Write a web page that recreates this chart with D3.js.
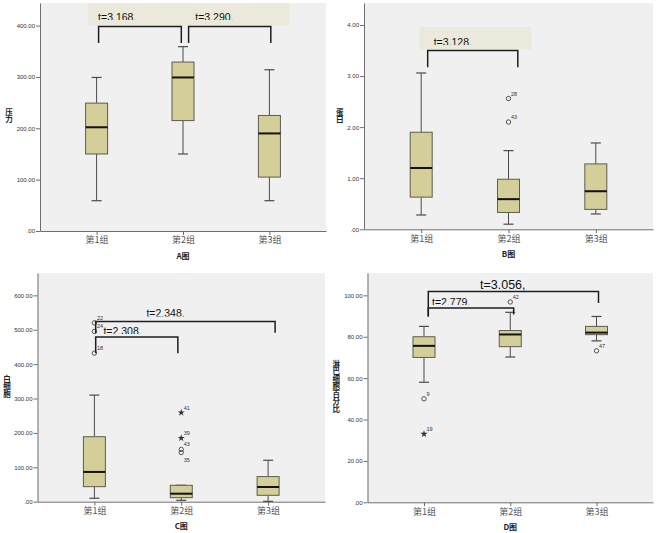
<!DOCTYPE html>
<html><head><meta charset="utf-8">
<script src="https://cdn.jsdelivr.net/npm/d3@7"></script>
<style>body{margin:0;background:#fff}svg{display:block}</style>
</head><body>
<svg id="chart" width="658" height="533"></svg>
<script>
// ---------- data ----------
const groups = ["第1组", "第2组", "第3组"];

// box stats per group: [lower whisker, Q1, median, Q3, upper whisker]
const boxesA = [[59, 150, 202, 249, 299], [150, 215, 299, 329, 359], [59, 105, 190, 225, 314]];
const boxesB = [[0.28, 0.63, 1.20, 1.90, 3.06], [0.10, 0.33, 0.59, 0.98, 1.54], [0.30, 0.39, 0.745, 1.28, 1.69]];
const boxesC = [[10, 43.7, 86.5, 189, 310], [4, 11.7, 23.3, 47.7, 47.7], [1, 18.6, 42.8, 73, 120.5]];
const boxesD = [[58, 70, 75.6, 80, 85], [70.2, 75.2, 81.1, 83, 91.8], [78, 81, 82, 85, 89.8]];

// outliers: group index, value, case label, marker, label side
const outliersA = [];
const outliersB = [
  {g: 1, v: 2.56, label: "28", shape: "circle", side: "above"},
  {g: 1, v: 2.10, label: "43", shape: "circle", side: "above"}
];
const outliersC = [
  {g: 0, v: 520, label: "22", shape: "circle", side: "above"},
  {g: 0, v: 495, label: "24", shape: "circle", side: "above"},
  {g: 0, v: 432, label: "18", shape: "circle", side: "above"},
  {g: 1, v: 259, label: "41", shape: "star", side: "above"},
  {g: 1, v: 185, label: "39", shape: "star", side: "above"},
  {g: 1, v: 152, label: "43", shape: "circle", side: "above"},
  {g: 1, v: 143, label: "35", shape: "circle", side: "below"}
];
const outliersD = [
  {g: 0, v: 50, label: "9", shape: "circle", side: "above"},
  {g: 0, v: 33, label: "19", shape: "star", side: "above"},
  {g: 1, v: 96.8, label: "42", shape: "circle", side: "above"},
  {g: 2, v: 73.2, label: "47", shape: "circle", side: "above"}
];

// y tick values
const ticksA = [0, 100, 200, 300, 400];
const ticksB = [0, 1, 2, 3, 4];
const ticksC = [0, 100, 200, 300, 400, 500, 600];
const ticksD = [0, 20, 40, 60, 80, 100];

// significance brackets: from group, to group, bar level, leg ends (left, right), text
const bracketsA = [
  {from: 0, to: 1, level: 398, legL: 366, legR: 366, text: "t=3.168,"},
  {from: 1, to: 2, level: 398, legL: 366, legR: 366, text: "t=3.290,"}
];
const bracketsB = [
  {from: 0, to: 1, level: 3.5, legL: 3.17, legR: 3.17, text: "t=3.128,"}
];
const bracketsC = [
  {from: 0, to: 2, level: 524, legL: 490, legR: 491, text: "t=2.348,"},
  {from: 0, to: 1, level: 479, legL: 432, legR: 432, text: "t=2.308,"}
];
const bracketsD = [
  {from: 0, to: 2, level: 101.9, legL: 89.8, legR: 96.3, text: "t=3.056,"},
  {from: 0, to: 1, level: 93.9, legL: 89.8, legR: 90.7, text: "t=2.779,"}
];

const yTitles = ["压力", "蛋白", "白细胞", "淋巴细胞百分比"];
const xTitles = ["A图", "B图", "C图", "D图"];

// ---------- layout ----------
const panels = [
  {boxes: boxesA, outliers: outliersA, ticks: ticksA, brackets: bracketsA, ymax: 444,
   left: 40, right: 326, top: 3, bottom: 231, ytx: 9, yty: 108,
   band: {x0: 88.3, x1: 289.3, v0: 400},
   bx: [[2, -1.7], [5.6, 1.4]], tx: [1.5, 12.3], ty: [20.5, 20.5], tsize: [10.5, 10.5], clip: [true, true]},
  {boxes: boxesB, outliers: outliersB, ticks: ticksB, brackets: bracketsB, ymax: 4.43,
   left: 364, right: 653, top: 3, bottom: 229.3, ytx: 339.7, yty: 108,
   band: {x0: 419.5, x1: 531.5, v0: 3.53, v1: 3.96},
   bx: [[6.5, 9.3]], tx: [12.5], ty: [45.5], tsize: [10.5], clip: [true]},
  {boxes: boxesC, outliers: outliersC, ticks: ticksC, brackets: bracketsC, ymax: 665,
   left: 37.5, right: 325, top: 273, bottom: 501.7, ytx: 7, yty: 375,
   band: null,
   bx: [[1.3, 7], [1.3, -3.4]], tx: [52, 9], ty: [317, 334.5], tsize: [10.5, 10.5], clip: [true, true]},
  {boxes: boxesD, outliers: outliersD, ticks: ticksD, brackets: bracketsD, ymax: 110.8,
   left: 367.5, right: 653, top: 273, bottom: 502.3, ytx: 336.3, yty: 360,
   band: null,
   bx: [[4.3, 2], [4.3, 3.4]], tx: [56, 8], ty: [289, 305.5], tsize: [12.5, 10.5], clip: [false, true]}
];

const svg = d3.select("#chart");
const latin = "'Liberation Sans', Arial, sans-serif";
const cjk = "'Noto Sans CJK SC', 'Noto Sans CJK JP', sans-serif";
const fmt = v => d3.format(".2f")(v).replace(/^0\./, ".");
const boxFill = "#d4cf98";

panels.forEach((p, pi) => {
  const g = svg.append("g");
  const x = d3.scalePoint().domain(groups).range([p.left, p.right]).padding(0.655);
  const y = d3.scaleLinear().domain([0, p.ymax]).range([p.bottom, p.top]);

  // plot background
  g.append("rect").attr("x", p.left).attr("y", p.top)
    .attr("width", p.right - p.left).attr("height", p.bottom - p.top).attr("fill", "#f0f0f0");

  // annotation band
  if (p.band) {
    const v1 = p.band.v1 !== undefined ? p.band.v1 : p.ymax;
    g.append("rect").attr("x", p.band.x0).attr("y", y(v1))
      .attr("width", p.band.x1 - p.band.x0).attr("height", y(p.band.v0) - y(v1))
      .attr("fill", "#ebe9dc");
  }

  // axes
  const ya = g.append("g").attr("transform", `translate(${p.left},0)`)
    .call(d3.axisLeft(y).tickValues(p.ticks).tickFormat(fmt).tickSize(4).tickSizeOuter(0).tickPadding(1));
  ya.selectAll("text").attr("font-family", latin).attr("font-size", 6).attr("fill", "#333");
  ya.selectAll("line,path").attr("stroke", "#6e6e6e");

  const xa = g.append("g").attr("transform", `translate(0,${p.bottom})`)
    .call(d3.axisBottom(x).tickSize(4).tickSizeOuter(0).tickPadding(2));
  xa.selectAll("text").attr("font-family", cjk).attr("font-size", 9).attr("fill", "#555");
  xa.selectAll("line,path").attr("stroke", "#6e6e6e");

  // axis titles
  g.append("text").attr("x", (x(groups[1]))).attr("y", p.bottom + 27.5)
    .attr("text-anchor", "middle").attr("font-family", cjk).attr("font-weight", "bold")
    .attr("font-size", 8).attr("fill", "#222").text(xTitles[pi]);
  g.append("text").attr("x", p.ytx).attr("y", p.yty)
    .attr("text-anchor", "start")
    .style("writing-mode", "vertical-rl").style("text-orientation", "upright")
    .attr("font-family", cjk).attr("font-weight", "bold")
    .attr("font-size", 7.5).attr("fill", "#222").text(yTitles[pi]);

  // boxes
  const bw = 22, cw = 10;
  p.boxes.forEach((b, gi) => {
    const cx = x(groups[gi]);
    const [lo, q1, med, q3, hi] = b;
    const bg = g.append("g");
    bg.append("line").attr("x1", cx).attr("x2", cx).attr("y1", y(hi)).attr("y2", y(q3))
      .attr("stroke", "#4a4a4a").attr("stroke-width", 1);
    bg.append("line").attr("x1", cx).attr("x2", cx).attr("y1", y(q1)).attr("y2", y(lo))
      .attr("stroke", "#4a4a4a").attr("stroke-width", 1);
    [lo, hi].forEach(v => bg.append("line").attr("x1", cx - cw / 2).attr("x2", cx + cw / 2)
      .attr("y1", y(v)).attr("y2", y(v)).attr("stroke", "#4a4a4a").attr("stroke-width", 1.2));
    bg.append("rect").attr("x", cx - bw / 2).attr("y", y(q3)).attr("width", bw)
      .attr("height", Math.max(0.5, y(q1) - y(q3))).attr("fill", boxFill)
      .attr("stroke", "#5c5c50").attr("stroke-width", 1);
    bg.append("line").attr("x1", cx - bw / 2).attr("x2", cx + bw / 2)
      .attr("y1", y(med)).attr("y2", y(med)).attr("stroke", "#111").attr("stroke-width", 2);
  });

  // outliers
  p.outliers.forEach(o => {
    const cx = x(groups[o.g]), cy = y(o.v);
    if (o.shape === "circle") {
      g.append("circle").attr("cx", cx).attr("cy", cy).attr("r", 2.2)
        .attr("fill", "none").attr("stroke", "#444").attr("stroke-width", 0.9);
    } else {
      g.append("path").attr("transform", `translate(${cx},${cy})`)
        .attr("d", d3.symbol(d3.symbolStar, 16)()).attr("fill", "#333");
    }
    g.append("text").attr("x", cx + 2.5).attr("y", o.side === "above" ? cy - 3 : cy + 9.5)
      .attr("font-family", latin).attr("font-size", 5.5).attr("fill", "#333").text(o.label);
  });

  // brackets and t labels
  p.brackets.forEach((b, bi) => {
    const xl = x(groups[b.from]) + p.bx[bi][0];
    const xr = x(groups[b.to]) + p.bx[bi][1];
    const yl = y(b.level);
    g.append("path")
      .attr("d", `M${xl},${y(b.legL)}V${yl}H${xr}V${y(b.legR)}`)
      .attr("fill", "none").attr("stroke", "#1e1e1e").attr("stroke-width", 1.5);
    const tx = x(groups[b.from]) + p.tx[bi];
    const t = g.append("text").attr("x", tx).attr("y", p.ty[bi])
      .attr("font-family", latin).attr("font-size", p.tsize[bi]).attr("fill", "#111").text(b.text);
    if (p.clip[bi]) {
      const id = `clip${pi}_${bi}`;
      svg.append("clipPath").attr("id", id).append("rect")
        .attr("x", tx - 5).attr("y", p.ty[bi] - 20).attr("width", 80).attr("height", 19.6);
      t.attr("clip-path", `url(#${id})`);
    }
  });
});
</script>
</body></html>
